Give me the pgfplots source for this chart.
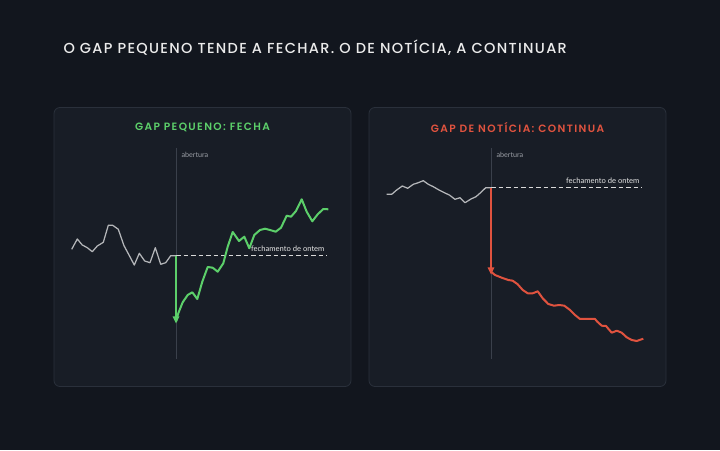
\documentclass[border=0pt]{standalone}
\usepackage{pgfplots}
\pgfplotsset{compat=1.18}
\usetikzlibrary{arrows.meta}
\usepackage{fontspec}
\setmainfont{Poppins}
\newfontfamily\titlefont[LetterSpace=9]{Poppins Medium}
\newfontfamily\paneltitlefont[LetterSpace=13]{Poppins SemiBold}
\newfontfamily\smallfont{Lato}
\definecolor{bg}{HTML}{12161E}
\definecolor{panel}{HTML}{181D26}
\definecolor{panelborder}{HTML}{2A303B}
\definecolor{priceg}{HTML}{B4B6B9}
\definecolor{gup}{HTML}{5CCF6A}
\definecolor{rdown}{HTML}{E0533F}
\definecolor{vline}{HTML}{3A404B}
\definecolor{lbl}{HTML}{9A9EA5}
\begin{document}
\begin{tikzpicture}[x=1pt,y=1pt]
\fill[bg] (0,0) rectangle (720,450);
\begin{axis}[
  at={(0,0)}, anchor=south west,
  scale only axis, width=720pt, height=450pt,
  xmin=0, xmax=720, ymin=0, ymax=450,
  hide axis, clip=false]
% panels
\draw[fill=panel, draw=panelborder, line width=0.8pt, rounded corners=6pt] (54,63.5) rectangle (351,342.5);
\draw[fill=panel, draw=panelborder, line width=0.8pt, rounded corners=6pt] (369,63.5) rectangle (666,342.5);
% titles
\node[anchor=west, text=white!92!black, font=\titlefont\fontsize{14.5}{16}\selectfont] at (60,402) {O GAP PEQUENO TENDE A FECHAR. O DE NOTÍCIA, A CONTINUAR};
\node[text=gup, font=\paneltitlefont\fontsize{10.6}{12}\selectfont] at (202.5,323) {GAP PEQUENO: FECHA};
\node[text=rdown, font=\paneltitlefont\fontsize{10.6}{12}\selectfont] at (517.5,323) {GAP DE NOTÍCIA: CONTINUA};
% opening lines
\addplot[vline, line width=0.7pt] coordinates {(176,302) (176,91)};
\addplot[vline, line width=0.7pt] coordinates {(491,302) (491,91)};
\node[anchor=west, text=lbl, font=\smallfont\fontsize{7.2}{8}\selectfont] at (178,295) {abertura};
\node[anchor=west, text=lbl, font=\smallfont\fontsize{7.2}{8}\selectfont] at (493,295) {abertura};
% yesterday close
\addplot[white!85!black, line width=1.1pt, dash pattern=on 4.5pt off 3pt] coordinates {(176,194.3) (327,194.3)};
\addplot[white!85!black, line width=1.1pt, dash pattern=on 4.5pt off 3pt] coordinates {(491,262.3) (642,262.3)};
\node[anchor=east, text=white!90!black, font=\smallfont\fontsize{7.6}{8}\selectfont] at (328,201) {fechamento de ontem};
\node[anchor=east, text=white!90!black, font=\smallfont\fontsize{7.6}{8}\selectfont] at (643,269) {fechamento de ontem};
% left: small gap
\addplot[priceg, line width=1.25pt, line join=round] coordinates {
(71.7,200.7) (77.3,211.0) (82.3,205.0) (87.3,202.3) (92.3,198.3) (97.3,204.0)
(103.3,207.7) (108.3,224.7) (112.7,224.7) (118.3,220.7) (124.0,204.3) (129.0,195.0)
(134.3,185.0) (139.3,196.7) (144.7,189.0) (150.0,187.3) (155.3,202.3) (160.7,185.7)
(165.7,187.3) (170.7,194.3) (176.0,194.3)};
\addplot[gup, line width=1.3pt, -{Triangle[length=7pt,width=6.5pt]}] coordinates {(176,194.3) (176,126.5)};
\addplot[gup, line width=2pt, line join=round] coordinates {
(176.0,128.3) (178.3,136.7) (182.7,147.7) (187.7,155.0) (192.3,157.7) (197.3,151.0)
(202.3,168.3) (207.7,183.0) (212.7,182.3) (217.7,178.3) (223.3,186.7) (227.7,203.3)
(232.7,218.0) (239.0,209.0) (244.3,213.3) (249.3,201.7) (254.3,215.0) (260.0,220.0)
(265.0,221.3) (270.0,220.0) (275.7,218.3) (281.0,222.3) (286.7,234.3) (291.0,233.3)
(296.0,239.0) (301.7,250.7) (306.7,238.3) (312.3,228.7) (317.7,235.7) (323.3,241.0)
(328.3,240.7)};
% right: news gap
\addplot[priceg, line width=1.25pt, line join=round] coordinates {
(386.7,255.7) (391.7,255.7) (396.7,260.0) (402.3,264.0) (407.7,261.7) (413.3,265.7)
(418.3,267.3) (423.3,269.3) (428.3,265.7) (433.3,263.3) (439.0,260.0) (444.3,257.3)
(449.3,255.0) (455.0,250.7) (460.0,252.3) (465.0,247.3) (471.0,251.0) (476.0,253.3)
(481.0,257.7) (485.7,262.3) (491.0,262.3)};
\addplot[rdown, line width=1.3pt, -{Triangle[length=7pt,width=6.5pt]}] coordinates {(491,262.3) (491,175.5)};
\addplot[rdown, line width=2pt, line join=round] coordinates {
(491.0,178.3) (495.0,175.0) (501.7,172.3) (508.3,170.0) (512.7,169.3) (517.7,165.7)
(522.7,160.0) (527.7,156.7) (532.7,156.7) (537.7,158.7) (542.7,151.7) (548.3,146.0)
(554.0,144.3) (559.3,145.0) (564.3,144.3) (570.0,140.0) (575.0,135.0) (580.0,131.0)
(586.0,131.0) (595.0,131.0) (597.3,128.3) (601.7,124.3) (606.0,124.0) (611.7,117.3)
(616.7,119.3) (621.7,117.3) (626.7,112.7) (631.7,110.0) (636.7,109.0) (643.3,111.3)};
\end{axis}
\end{tikzpicture}
\end{document}
